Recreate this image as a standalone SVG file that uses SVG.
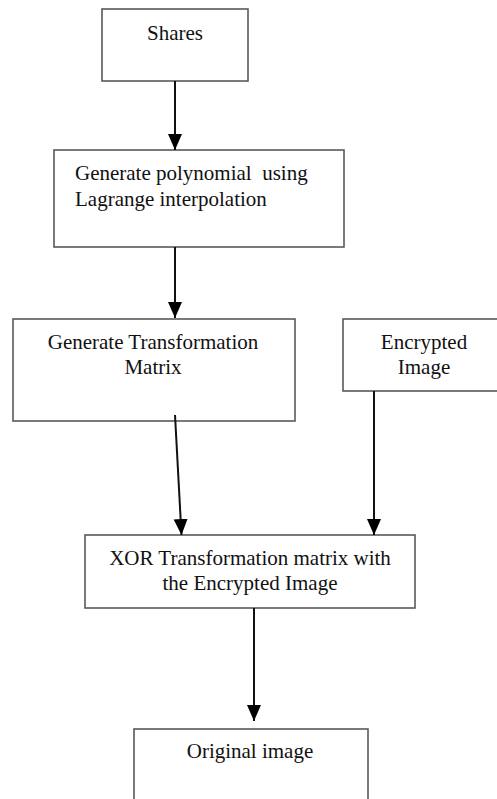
<svg xmlns="http://www.w3.org/2000/svg" width="497" height="799" viewBox="0 0 497 799">
<style>
.box{fill:#fff;stroke:#595959;stroke-width:1.6}
text{font-family:'Liberation Serif','DejaVu Serif',serif;font-size:21px;fill:#111}
.c{text-anchor:middle}
.ln{stroke:#111;stroke-width:2;fill:none}
</style>
<defs>
<marker id="ah" markerUnits="userSpaceOnUse" markerWidth="16" markerHeight="16" viewBox="0 0 16 16" refX="16" refY="8" orient="auto">
<path d="M0,1 L16,8 L0,15 Z" fill="#000"/>
</marker>
</defs>
<rect width="497" height="799" fill="#fff"/>
<g id="n1"><rect class="box" x="102" y="9" width="146" height="72"/><text class="c" x="175" y="40">Shares</text></g>
<g id="n2"><rect class="box" x="54" y="150" width="290" height="97"/><text x="75" y="180" xml:space="preserve">Generate polynomial  using</text><text x="75" y="206">Lagrange interpolation</text></g>
<g id="n3"><rect class="box" x="13" y="319" width="282" height="102"/><text class="c" x="153" y="349">Generate Transformation</text><text class="c" x="153" y="374">Matrix</text></g>
<g id="n4"><rect class="box" x="343" y="319" width="170" height="72"/><text class="c" x="424" y="349">Encrypted</text><text class="c" x="424" y="374">Image</text></g>
<g id="n5"><rect class="box" x="85" y="535" width="330" height="73"/><text class="c" x="250" y="565">XOR Transformation matrix with</text><text class="c" x="250" y="590">the Encrypted Image</text></g>
<g id="n6"><rect class="box" x="134" y="729" width="234" height="90"/><text class="c" x="250" y="758">Original image</text></g>
<g id="edges">
<line class="ln" x1="175" y1="81" x2="175" y2="150" marker-end="url(#ah)"/>
<line class="ln" x1="175" y1="247" x2="175" y2="318" marker-end="url(#ah)"/>
<line class="ln" x1="175" y1="415" x2="181.5" y2="535" marker-end="url(#ah)"/>
<line class="ln" x1="374" y1="391" x2="374" y2="535" marker-end="url(#ah)"/>
<line class="ln" x1="254" y1="608" x2="254" y2="721" marker-end="url(#ah)"/>
</g>
</svg>
